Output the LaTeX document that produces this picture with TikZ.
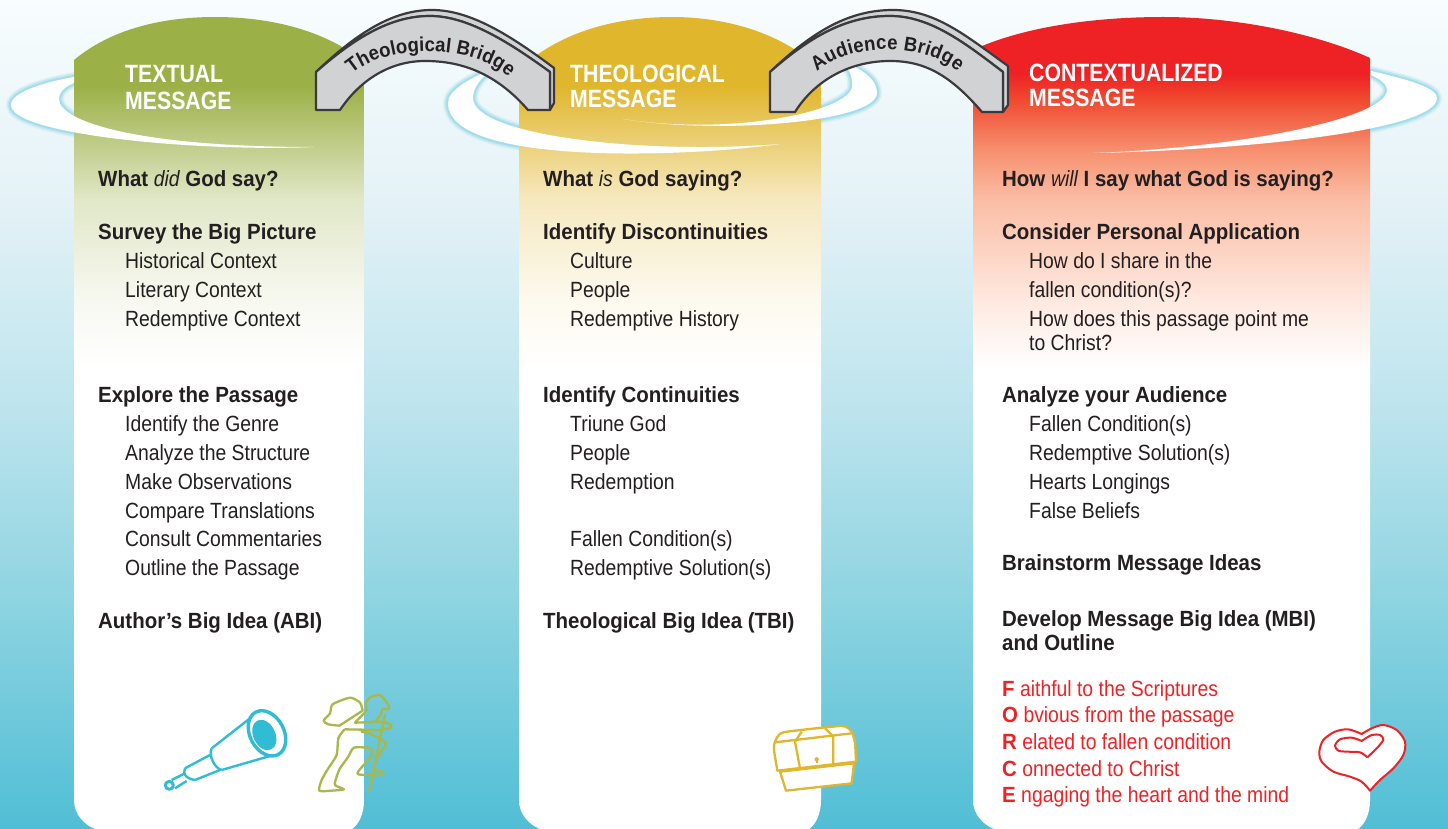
\documentclass[tikz,border=0pt]{standalone}
\usepackage{fontspec}
\setmainfont[FakeStretch=0.88]{Liberation Sans}
\newfontfamily\boldfam[FakeStretch=0.93]{Liberation Sans}
\newfontfamily\headfam[FakeStretch=0.85]{Liberation Sans}
\usetikzlibrary{decorations.text}
\definecolor{inkgrey}{HTML}{231F20}
\definecolor{headA}{HTML}{9BB046}
\definecolor{headB}{HTML}{E0B62C}
\definecolor{headC}{HTML}{EE2224}
\definecolor{salmonA}{HTML}{F04A30}
\definecolor{salmonB}{HTML}{F6906F}
\definecolor{salmonC}{HTML}{FBBDA5}
\definecolor{salmonD}{HTML}{FEE9E0}
\definecolor{glowteal}{HTML}{8FD8E6}
\definecolor{scopeteal}{HTML}{2FBCD4}
\definecolor{hikergreen}{HTML}{A9B84B}
\definecolor{bridgegrey}{HTML}{D1D2D4}
\definecolor{bridgeline}{HTML}{3A3A3C}
\definecolor{skyA}{HTML}{50BED5}
\definecolor{skyB}{HTML}{8ED4E1}
\definecolor{skyC}{HTML}{BFE5EE}
\definecolor{skyD}{HTML}{E4F2F7}
\definecolor{skyE}{HTML}{F8FDFE}
\pgfdeclareverticalshading{skyfade}{100bp}{color(0bp)=(skyA); color(25bp)=(skyA); color(38.8bp)=(skyB); color(50.85bp)=(skyC); color(62.95bp)=(skyD); color(75bp)=(skyE); color(100bp)=(skyE)}
\pgfdeclareverticalshading{fadeA}{100bp}{color(0bp)=(white); color(53.25bp)=(white); color(57.55bp)=(headA!8!white); color(63.75bp)=(headA!30!white); color(66.8bp)=(headA!60!white); color(70.8bp)=(headA); color(100bp)=(headA)}
\pgfdeclareverticalshading{fadeB}{100bp}{color(0bp)=(white); color(53.25bp)=(white); color(57.55bp)=(headB!8!white); color(63.75bp)=(headB!30!white); color(66.8bp)=(headB!60!white); color(70.8bp)=(headB); color(100bp)=(headB)}
\pgfdeclareverticalshading{fadeC}{100bp}{color(0bp)=(white); color(53.25bp)=(white); color(57.55bp)=(salmonD); color(63.75bp)=(salmonC); color(66.8bp)=(salmonB); color(69.9bp)=(salmonA); color(71.5bp)=(headC); color(100bp)=(headC)}
\tikzstyle{title}=[anchor=base west,inner sep=0pt,text=white,font=\headfam\fontsize{25}{26}\bfseries\selectfont]
\tikzstyle{lead}=[anchor=base west,inner sep=0pt,text=inkgrey,font=\boldfam\fontsize{22}{26}\bfseries\selectfont]
\tikzstyle{item}=[anchor=base west,inner sep=0pt,yshift=1pt,text=inkgrey,font=\fontsize{22}{26}\selectfont]
\tikzstyle{force}=[anchor=base west,inner sep=0pt,yshift=1pt,text=headC,font=\fontsize{22}{26}\selectfont]
\tikzstyle{bridge}=[draw=bridgeline,fill=bridgegrey,line width=2.2pt,line join=round]
\tikzstyle{swirl}=[fill=white]
\tikzstyle{bridgetext}=[decorate,decoration={text along path,text align=fit to path,text color=inkgrey}]
\newcommand{\lightit}[1]{{\normalfont\fontsize{22}{26}\itshape #1}}
\def\swirlA{(314,147) .. controls (200,152) and (11,135) .. (11,105) .. controls (11,92) and (45,82) .. (74,77) -- (74,83) .. controls (62,88) and (59,94) .. (59,99) .. controls (59,122) and (140,147) .. (314,147)}
\def\swirlB{(780,144) .. controls (680,158) and (448,165) .. (448,103) .. controls (448,90) and (470,78) .. (495,68) -- (490,72) .. controls (478,80) and (473,90) .. (473,98) .. controls (473,135) and (640,155) .. (780,144)}
\def\swirlC{(623,119) .. controls (720,135) and (877,122) .. (877,93) .. controls (877,80) and (865,72) .. (850,64) -- (845,66) .. controls (851,72) and (853,80) .. (852,87) .. controls (848,112) and (730,136) .. (623,119)}
\def\swirlD{(1093,153) .. controls (1250,150) and (1437,130) .. (1437,98) .. controls (1437,88) and (1410,80) .. (1371,71) -- (1371,75) .. controls (1382,80) and (1387,85) .. (1387,90) .. controls (1387,118) and (1240,148) .. (1093,153)}
\begin{document}
\begin{tikzpicture}[x=1pt,y=-1pt]
    \useasboundingbox (0,0) rectangle (1448,829);
    \shade[shading=skyfade] (0,0) rectangle (1448,829);
    % First we draw the glow round the rings
    \foreach \ring in {\swirlA,\swirlB,\swirlC,\swirlD}
        \foreach \wid/\tone in {10/20,7/35,4/60}
            \draw[glowteal,opacity=0.01*\tone,line width=\wid pt,line join=round] \ring -- cycle;
    % The three columns
    \shade[shading=fadeA] (74,60) .. controls (110,30) and (160,17) .. (215,17) .. controls (270,17) and (325,30) .. (364,62) -- (364,800) .. controls (364,815) and (358,825) .. (352,829) -- (95,829) .. controls (85,825) and (74,815) .. (74,800) -- cycle;
    \shade[shading=fadeB] (519,70) .. controls (555,35) and (610,17) .. (672,17) .. controls (730,17) and (785,35) .. (821,70) -- (821,800) .. controls (821,815) and (815,825) .. (809,829) -- (540,829) .. controls (530,825) and (519,815) .. (519,800) -- cycle;
    \shade[shading=fadeC] (973,50) .. controls (1020,28) and (1090,17) .. (1163,17) .. controls (1240,17) and (1320,35) .. (1370,58) -- (1370,800) .. controls (1370,815) and (1364,825) .. (1358,829) -- (994,829) .. controls (984,825) and (973,815) .. (973,800) -- cycle;
    % White rings over the columns
    \foreach \ring in {\swirlA,\swirlB,\swirlC,\swirlD}
        \path[swirl] \ring -- cycle;
    % Column titles
    \foreach \pos/\name/\txt in {{(125,83)/titleAa/TEXTUAL}, {(125,110)/titleAb/MESSAGE}, {(570,83)/titleBa/THEOLOGICAL}, {(570,108)/titleBb/MESSAGE}, {(1029,82)/titleCa/CONTEXTUALIZED}, {(1029,107)/titleCb/MESSAGE}}
        \node[title] (\name) at \pos {\txt};
    % Bold lines
    \foreach \pos/\name/\txt in {{(98,187)/askA/What \lightit{did} God say?}, {(98,240)/surveyA/Survey the Big Picture}, {(98,402)/exploreA/Explore the Passage}, {(98,628)/ideaA/Author’s Big Idea (ABI)},
        {(543,187)/askB/What \lightit{is} God saying?}, {(543,240)/discontB/Identify Discontinuities}, {(543,402)/contB/Identify Continuities}, {(543,628)/ideaB/Theological Big Idea (TBI)},
        {(1002,187)/askC/How \lightit{will} I say what God is saying?}, {(1002,240)/considerC/Consider Personal Application}, {(1002,402)/audienceC/Analyze your Audience}, {(1002,570)/stormC/Brainstorm Message Ideas}, {(1002,626)/developC/Develop Message Big Idea (MBI)}, {(1002,650)/outlineC/and Outline}}
        \node[lead] (\name) at \pos {\txt};
    % Plain lines
    \foreach \pos/\name/\txt in {{(125,269)/histA/Historical Context}, {(125,298)/litA/Literary Context}, {(125,327)/redA/Redemptive Context}, {(125,432)/genreA/Identify the Genre}, {(125,461)/structA/Analyze the Structure}, {(125,490)/obsA/Make Observations}, {(125,519)/transA/Compare Translations}, {(125,547)/commA/Consult Commentaries}, {(125,576)/lineA/Outline the Passage},
        {(570,269)/cultB/Culture}, {(570,298)/peopleB/People}, {(570,327)/histB/Redemptive History}, {(570,432)/godB/Triune God}, {(570,461)/folkB/People}, {(570,490)/redB/Redemption}, {(570,547)/fallB/Fallen Condition(s)}, {(570,576)/solB/Redemptive Solution(s)},
        {(1029,269)/shareC/How do I share in the}, {(1029,298)/fallenC/fallen condition(s)?}, {(1029,327)/pointC/How does this passage point me}, {(1029,351)/christC/to Christ?}, {(1029,432)/fallC/Fallen Condition(s)}, {(1029,461)/solC/Redemptive Solution(s)}, {(1029,490)/heartC/Hearts Longings}, {(1029,519)/falseC/False Beliefs}}
        \node[item] (\name) at \pos {\txt};
    % The red list
    \foreach \pos/\name/\initial/\txt in {{(1002,697)/forceF/F/aithful to the Scriptures}, {(1002,723)/forceO/O/bvious from the passage}, {(1002,750)/forceR/R/elated to fallen condition}, {(1002,777)/forceC/C/onnected to Christ}, {(1002,803)/forceE/E/ngaging the heart and the mind}}
        \node[force] (\name) at \pos {{\boldfam\bfseries\initial} \txt};
    % Bridges
    \path[bridge] (316,72) .. controls (360,30) and (395,10) .. (432,10) .. controls (470,10) and (510,35) .. (554,68) -- (554,103) -- (550,110) -- (550,72) .. controls (510,43) and (468,16) .. (430,16) .. controls (395,16) and (360,33) .. (316,72) -- cycle;
    \path[bridge] (316,110) -- (316,72) .. controls (360,33) and (395,16) .. (430,16) .. controls (468,16) and (510,43) .. (550,72) -- (550,110) -- (528,110) .. controls (495,72) and (460,61) .. (425,61) .. controls (390,61) and (360,80) .. (340,110) -- cycle;
    \path[bridge] (770,72) .. controls (814,30) and (850,10) .. (893,10) .. controls (935,10) and (965,35) .. (1008,66) -- (1008,105) -- (1003,112) -- (1003,72) .. controls (965,43) and (930,16) .. (890,16) .. controls (850,16) and (814,33) .. (770,72) -- cycle;
    \path[bridge] (770,112) -- (770,72) .. controls (814,33) and (850,16) .. (890,16) .. controls (930,16) and (965,43) .. (1003,72) -- (1003,112) -- (982,112) .. controls (950,75) and (925,61) .. (890,61) .. controls (850,61) and (815,80) .. (795,112) -- cycle;
    \path[bridgetext,decoration={text={|\boldfam\fontsize{20}{22}\bfseries\selectfont|Theological Bridge}}] (352,74) .. controls (385,44) and (470,44) .. (505,74);
    \path[bridgetext,decoration={text={|\boldfam\fontsize{20}{22}\bfseries\selectfont|Audience Bridge}}] (817,72) .. controls (850,42) and (925,42) .. (958,72);
    % Telescope
    \begin{scope}[shift={(140,680)},x=0.3333pt,y=-0.3333pt,draw=scopeteal,line width=2.4pt,line join=round]
        \draw[line width=3pt] (88,316) circle (4pt);
        \draw (95,300) -- (135,280) (105,325) -- (140,303);
        \draw (135,265) -- (210,225) (165,300) -- (240,270);
        \draw (135,265) .. controls (128,280) and (135,295) .. (165,300);
        \draw (215,205) -- (330,115) (245,270) -- (390,228);
        \draw (215,205) .. controls (205,230) and (225,265) .. (245,270);
        \draw[line width=3.4pt,fill=white] (381,160) ellipse [x radius=24pt,y radius=17pt,rotate=-62];
        \fill[scopeteal] (373,165) ellipse [x radius=16pt,y radius=11pt,rotate=-65];
    \end{scope}
    % Hiker
    \begin{scope}[shift={(140,680)},x=0.3333pt,y=-0.3333pt,draw=hikergreen,line width=2.3pt,line join=round,line cap=round]
        \draw plot[smooth,tension=0.4] coordinates {(668,92) (660,68) (630,53) (578,73) (570,100) (551,122) (565,133) (598,137)} -- (668,92);
        \draw plot[smooth,tension=0.4] coordinates {(680,92) (678,70) (690,52) (720,45) (742,70) (748,85) (728,88) (722,105) (705,125)};
        \draw (680,92) -- (645,128) -- (730,125) -- (755,135) -- (750,145) -- (720,150) -- (615,148);
        \draw plot[smooth,tension=0.4] coordinates {(612,150) (595,175) (590,225) (565,265) (545,300) (538,332) (575,332) (612,328) (585,315) (590,290) (600,265) (625,230) (642,203) (692,205) (695,225) (680,245) (653,282) (725,285) (728,275) (700,265) (720,220) (738,190) (700,165) (665,155)};
        \draw (735,105) -- (688,333);
    \end{scope}
    % Treasure chest
    \begin{scope}[shift={(750,700)},x=0.3333pt,y=-0.3333pt,draw=headB,line width=2.3pt,line join=round]
        \draw[fill=white] (90,215) -- (108,272) -- (305,250) -- (312,190) -- cycle;
        \draw[fill=white] plot[smooth,tension=0.3] coordinates {(82,212) (72,150) (75,125) (100,97) (275,78) (305,95) (315,130) (318,185)} -- cycle;
        \draw (75,127) -- (305,100);
        \draw (155,95) -- (135,125) -- (150,205);
        \draw (225,85) -- (250,110) -- (250,195);
        \fill[headB] (200,178) circle (2.2pt);
        \draw (200,178) -- (200,190);
    \end{scope}
    % Heart
    \begin{scope}[shift={(1290,700)},x=0.3333pt,y=-0.3333pt,draw=headC,line width=2pt,line join=round]
        \draw[fill=white] plot[smooth] coordinates {(240,272) (215,245) (180,230) (130,215) (95,185) (88,155) (100,120) (135,95) (175,88) (215,102)} -- plot[smooth] coordinates {(215,102) (245,85) (280,75) (320,90) (345,125) (340,165) (310,205) (270,240) (240,272)} -- cycle;
        \draw plot[smooth] coordinates {(232,172) (210,157) (170,155) (145,152) (135,137) (150,118) (185,113) (215,123)} -- plot[smooth] coordinates {(215,123) (245,105) (270,105) (280,118) (265,140) (232,172)};
    \end{scope}
\end{tikzpicture}
\end{document}
